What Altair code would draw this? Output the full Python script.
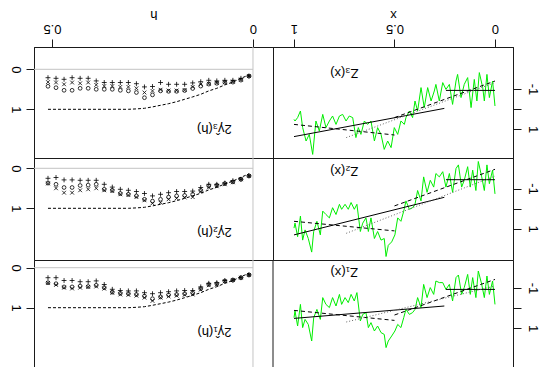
import altair as alt
import pandas as pd

FONT = "Liberation Sans"
BORDER = "#1a1a1a"
GREEN = "#00ee00"
GRAY = "#c4c4c4"

# ---------------- variogram panels (lags h and three estimators) ----------------
H_LAGS = [0.01, 0.03, 0.05, 0.07, 0.09, 0.11, 0.13, 0.15, 0.17, 0.19, 0.21, 0.23, 0.25,
          0.27, 0.29, 0.31, 0.33, 0.35, 0.37, 0.39, 0.41, 0.43, 0.45, 0.47, 0.49, 0.51]

PLUS_3 = [.17, .225, .275, .275, .29, .275, .31, .34, .375, .375, .375, .33, .43,
          .44, .36, .33, .33, .33, .33, .29, .225, .225, .21, .25, .225, .21]
CROSS_3 = [.17, .26, .31, .325, .34, .36, .375, .44, .52, .53, .53, .51, .54,
           .58, .475, .44, .44, .42, .42, .39, .33, .35, .33, .375, .33, .32]
CIRC_3 = [.17, .27, .32, .325, .35, .37, .42, .48, .53, .55, .55, .54, .64,
          .71, .58, .54, .525, .5, .5, .5, .475, .475, .525, .525, .46, .425]

PLUS_2 = [.19, .275, .31, .37, .40, .40, .48, .57, .58, .58, .61, .65, .69,
          .63, .58, .55, .525, .47, .40, .30, .30, .30, .29, .29, .23, .25]
CIRC_2 = [.19, .275, .34, .38, .425, .44, .55, .65, .68, .69, .72, .775, .82,
          .775, .69, .65, .63, .55, .525, .40, .42, .43, .48, .48, .40, .37]
CROSS_2 = [.19, .275, .35, .40, .45, .48, .58, .72, .73, .75, .775, .86, .875,
           .80, .72, .67, .65, .57, .55, .50, .525, .55, .61, .61, .50, .38]

PLUS_1 = [.18, .25, .31, .32, .375, .39, .48, .57, .57, .58, .60, .625, .65,
          .625, .58, .58, .57, .54, .42, .33, .35, .35, .32, .32, .25, .25]
CIRC_1 = [.18, .25, .31, .335, .40, .42, .525, .63, .65, .67, .68, .73, .775,
          .71, .67, .65, .64, .61, .50, .44, .47, .46, .48, .48, .40, .375]
CROSS_1 = [.18, .25, .31, .34, .42, .44, .55, .67, .68, .70, .72, .75, .83,
           .75, .70, .68, .67, .63, .525, .47, .48, .50, .52, .50, .43, .38]

TH_H = [0.01, 0.03, 0.05, 0.07, 0.09, 0.11, 0.13, 0.15, 0.17, 0.19, 0.21, 0.23, 0.25,
        0.27, 0.29, 0.31, 0.51]
TH_G = [0.14, 0.225, 0.32, 0.39, 0.475, 0.54, 0.625, 0.69, 0.75, 0.81, 0.86, 0.90, 0.94,
        0.975, 0.99, 1.0, 1.0]

# ---------------- data panels Z_i(x) ----------------
X_3 = [0.0, 0.012, 0.028, 0.040, 0.053, 0.061, 0.078, 0.090, 0.103, 0.119, 0.136, 0.153,
       0.169, 0.186, 0.194, 0.211, 0.227, 0.244, 0.260, 0.277, 0.294, 0.302, 0.318, 0.335,
       0.352, 0.368, 0.385, 0.398, 0.410, 0.426, 0.443, 0.451, 0.468, 0.484, 0.501, 0.517,
       0.534, 0.551, 0.567, 0.584, 0.600, 0.617, 0.634, 0.650, 0.667, 0.680, 0.692, 0.708,
       0.725, 0.741, 0.758, 0.774, 0.791, 0.808, 0.824, 0.841, 0.857, 0.874, 0.891, 0.907,
       0.924, 0.940, 0.957, 0.968, 0.982, 0.995, 1.0]
Z_3 = [-0.15, -1.4, -0.57, -1.73, -0.4, -1.07, -1.82, -0.4, -1.48, -0.07,
       -1.57, -1.23, -0.57, -1.73, -1.4, -0.23, -1.23, -0.98, -1.32, -0.4,
       -1.23, -0.9, -0.4, -1.07, -0.07, -1.07, 0.1, -0.4, 0.43, 0.1,
       0.43, 0.77, 0.6, 1.27, 0.93, 1.93, 1.6, 2.02, 1.27, 0.93,
       1.6, 0.6, 0.77, 0.6, 1.27, 0.93, 1.43, 0.43, 0.35, 0.6,
       0.27, 0.35, 0.77, 0.35, 0.6, 0.93, 0.27, 1.1, 0.6, 2.27,
       1.27, 1.6, 0.93, 0.1, 0.43, 0.6, 0.52]

X_12 = [0.0, 0.012, 0.028, 0.040, 0.053, 0.066, 0.083, 0.095, 0.111, 0.123, 0.136, 0.153,
        0.166, 0.182, 0.194, 0.211, 0.227, 0.244, 0.260, 0.277, 0.294, 0.305, 0.322, 0.338,
        0.355, 0.368, 0.385, 0.398, 0.410, 0.426, 0.443, 0.454, 0.468, 0.484, 0.498, 0.514,
        0.531, 0.542, 0.551, 0.567, 0.584, 0.600, 0.617, 0.630, 0.642, 0.658, 0.670, 0.687,
        0.700, 0.716, 0.730, 0.746, 0.763, 0.774, 0.791, 0.808, 0.824, 0.841, 0.857, 0.869,
        0.886, 0.902, 0.912, 0.929, 0.945, 0.957, 0.968, 0.982, 0.995, 1.0]
Z_2 = [-0.73, -1.92, -1.24, -2.18, -0.9, -1.58, -2.35, -0.9, -1.92, -1.07,
       -2.09, -1.41, -1.07, -2.18, -2.0, -0.81, -1.75, -1.07, -1.84, -1.58,
       -1.75, -1.07, -1.41, -0.81, -1.58, -0.38, -0.9, -0.21, -0.04, 0.04,
       -0.38, 0.13, 0.64, 0.47, 1.32, 1.67, 1.84, 2.4, 1.5, 1.58,
       1.15, 1.5, 0.47, 1.15, 0.47, 0.73, 1.15, -0.21, 0.04, -0.3,
       0.04, -0.21, 0.04, -0.21, 0.3, -0.04, 0.47, 0.3, 0.13, 1.32,
       0.64, 1.15, 2.18, 1.5, 1.07, 1.58, 0.38, 1.41, 0.73, 0.98]
Z_1 = [-0.18, -1.35, -0.68, -1.6, -0.52, -1.18, -1.85, -0.52, -1.52, -0.68,
       -1.68, -1.02, -0.68, -1.65, -1.52, -0.35, -1.18, -0.93, -1.27, -1.27,
       -1.35, -0.68, -1.02, -0.52, -1.18, -0.02, -0.52, 0.07, 0.23, 0.32,
       0.07, 0.48, 0.98, 0.82, 1.15, 1.4, 1.65, 1.98, 1.32, 1.23,
       0.9, 1.15, 0.73, 0.98, 0.23, 0.32, 0.65, -0.77, -0.35, -0.68,
       -0.27, -0.52, -0.18, -0.68, -0.1, -0.52, -0.02, -0.18, -0.52, 0.57,
       0.07, 0.48, 1.65, 0.82, 0.57, 0.98, -0.18, 0.9, 0.15, 0.48]

SOLID_X = [1.0, 0.252, 0.244, 0.0]
SOLID_SEG = ["a", "a", "b", "b"]
SOLID_Z_3 = [1.38, -0.03, -0.93, -0.93]
SOLID_Z_2 = [1.32, -0.56, -1.44, -1.44]
SOLID_Z_1 = [0.52, -0.10, -0.93, -0.93]

DASH_X = [1.0, 0.5, 0.5, 0.0]
DASH_SEG = ["a", "a", "b", "b"]
DASH_Z_3 = [0.77, 1.30, 0.43, -1.40]
DASH_Z_2 = [0.64, 1.12, -0.13, -1.96]
DASH_Z_1 = [0.12, 0.62, 0.35, -1.43]

DOT_X = [0.74, 0.0]
DOT_Z_3 = [1.43, -1.32]
DOT_Z_2 = [1.24, -1.62]
DOT_Z_1 = [0.70, -1.10]

Z_LABELS = ["Z\u2083(x)", "Z\u2082(x)", "Z\u2081(x)"]
G_LABELS = ["2\u03b3\u0302\u2083(h)", "2\u03b3\u0302\u2082(h)", "2\u03b3\u0302\u2081(h)"]
Z_LABEL_POS = [(0.75, -1.8), (0.75, -1.88), (0.75, -1.82)]
G_LABEL_POS = [(0.096, 1.5), (0.096, 1.59), (0.096, 1.61)]

# ---------------- layout ----------------
ROW_H = [111, 102, 108]
W_G = 239
W_Z = 240
H_DOM = [-0.0498, 0.5448]
X_DOM = [-0.0896, 1.1045]
G_DOMS = [[-0.5575, 2.2175], [-0.2575, 2.2925], [-0.1925, 2.5075]]
Z_DOMS = [[-3.1, 2.45], [-2.525, 2.575], [-2.4, 3.0]]

PLUS_PATH = "M-1,0L1,0M0,-1L0,1"
CROSS_PATH = "M-0.8,-0.8L0.8,0.8M-0.8,0.8L0.8,-0.8"


def top_axis(title, values):
    return alt.Axis(orient="top", values=values, format="~g", title=title,
                    labelAngle=180, labelAlign="center", labelBaseline="top",
                    labelPadding=5, tickSize=8, titleAngle=180, titleBaseline="top",
                    titleY=-27, grid=False)


def gamma_panel(i, plus, cross, circ, top):
    hs = alt.Scale(domain=H_DOM, reverse=True, nice=False, zero=False)
    gs = alt.Scale(domain=G_DOMS[i], reverse=True, nice=False, zero=False)
    xax = top_axis("h", [0, 0.5]) if top else None
    yax = alt.Axis(orient="left", values=[0, 1], format="d", title=None,
                   labelAngle=90, labelAlign="center", labelBaseline="top",
                   labelPadding=5, tickSize=8, grid=False)
    X = alt.X("h:Q", scale=hs, axis=xax)
    Y = alt.Y("g:Q", scale=gs, axis=yax)

    hline = alt.Chart(pd.DataFrame({"h": [0.0], "h2": [0.7], "g": [0.0]})).mark_rule(
        color=GRAY, clip=True).encode(x=X, x2="h2", y=Y)
    vline = alt.Chart(pd.DataFrame({"h": [0.0]})).mark_rule(color=GRAY).encode(x=X)
    theo = alt.Chart(pd.DataFrame({"h": TH_H, "g": TH_G})).mark_line(
        color="black", strokeDash=[3, 2], strokeWidth=1, clip=True).encode(x=X, y=Y)
    p1 = alt.Chart(pd.DataFrame({"h": H_LAGS, "g": plus})).mark_point(
        shape=PLUS_PATH, size=24, filled=False, color="black", strokeWidth=0.8,
        opacity=1, clip=True).encode(x=X, y=Y)
    p2 = alt.Chart(pd.DataFrame({"h": H_LAGS, "g": cross})).mark_point(
        shape=CROSS_PATH, size=22, filled=False, color="black", strokeWidth=0.8,
        opacity=1, clip=True).encode(x=X, y=Y)
    p3 = alt.Chart(pd.DataFrame({"h": H_LAGS, "g": circ})).mark_point(
        shape="circle", size=14, filled=False, color="black", strokeWidth=0.8,
        opacity=1, clip=True).encode(x=X, y=Y)
    lx, ly = G_LABEL_POS[i]
    lab = alt.Chart(pd.DataFrame({"h": [lx], "g": [ly], "t": [G_LABELS[i]]})).mark_text(
        angle=180, font=FONT, fontSize=13, color="black").encode(x=X, y=Y, text="t:N")
    layers = [hline, vline, theo, p1, p2, p3, lab]
    ch = alt.layer(*layers).properties(width=W_G, height=ROW_H[i])
    if i == 2:
        ch = ch.properties(view=alt.ViewBackground(stroke="transparent"))
    return ch


def z_panel(i, xs_, zs_, solid_z, dash_z, dot_z, top):
    xsc = alt.Scale(domain=X_DOM, reverse=True, nice=False, zero=False)
    zsc = alt.Scale(domain=Z_DOMS[i], reverse=True, nice=False, zero=False)
    xax = top_axis("x", [0, 0.5, 1]) if top else None
    yax = alt.Axis(orient="right", values=[-1, 0, 1], title=None,
                   labelExpr="datum.value == 0 ? '' : (datum.value < 0 ? '-' : '') + format(abs(datum.value), 'd')",
                   labelAngle=90, labelAlign="center", labelBaseline="alphabetic",
                   labelPadding=7, tickSize=8, grid=False)
    X = alt.X("x:Q", scale=xsc, axis=xax)
    Y = alt.Y("z:Q", scale=zsc, axis=yax)

    green = alt.Chart(pd.DataFrame({"x": xs_, "z": zs_})).mark_line(
        color=GREEN, strokeWidth=1, clip=True).encode(x=X, y=Y)
    solid = alt.Chart(pd.DataFrame({"x": SOLID_X, "z": solid_z, "s": SOLID_SEG})).mark_line(
        color="black", strokeWidth=1, clip=True).encode(x=X, y=Y, detail="s:N")
    dash = alt.Chart(pd.DataFrame({"x": DASH_X, "z": dash_z, "s": DASH_SEG})).mark_line(
        color="black", strokeWidth=1, strokeDash=[4, 3], clip=True).encode(x=X, y=Y, detail="s:N")
    dot = alt.Chart(pd.DataFrame({"x": DOT_X, "z": dot_z})).mark_line(
        color="#666666", strokeWidth=1, strokeDash=[1, 2], clip=True).encode(x=X, y=Y)
    lx, ly = Z_LABEL_POS[i]
    lab = alt.Chart(pd.DataFrame({"x": [lx], "z": [ly], "t": [Z_LABELS[i]]})).mark_text(
        angle=180, font=FONT, fontSize=13, color="black").encode(x=X, y=Y, text="t:N")
    layers = [green, solid, dash, dot, lab]
    if i == 2:
        edge = alt.Chart(pd.DataFrame({"x": [0.0]})).mark_rule(color=BORDER).encode(
            x=alt.value(0), y=alt.value(0), y2=alt.value(ROW_H[i]))
        layers.append(edge)
    ch = alt.layer(*layers).properties(width=W_Z, height=ROW_H[i])
    if i == 2:
        ch = ch.properties(view=alt.ViewBackground(stroke="transparent"))
    return ch


panels = [
    gamma_panel(0, PLUS_3, CROSS_3, CIRC_3, True),
    z_panel(0, X_3, Z_3, SOLID_Z_3, DASH_Z_3, DOT_Z_3, True),
    gamma_panel(1, PLUS_2, CROSS_2, CIRC_2, False),
    z_panel(1, X_12, Z_2, SOLID_Z_2, DASH_Z_2, DOT_Z_2, False),
    gamma_panel(2, PLUS_1, CROSS_1, CIRC_1, False),
    z_panel(2, X_12, Z_1, SOLID_Z_1, DASH_Z_1, DOT_Z_1, False),
]

chart = alt.concat(*panels, columns=2, spacing=0, bounds="flush", align="each").properties(
    padding={"left": 7, "top": 6, "right": 0, "bottom": 0}
).configure_view(stroke=BORDER, strokeWidth=1).configure_axis(
    domainColor=BORDER, tickColor=BORDER, labelColor="black", labelFont=FONT,
    labelFontSize=13, titleFont=FONT, titleFontSize=13, titleFontWeight="normal",
    titleColor="black", domainWidth=1, tickWidth=1
)

chart.save("out.html", embed_options={"renderer": "svg", "actions": False})
